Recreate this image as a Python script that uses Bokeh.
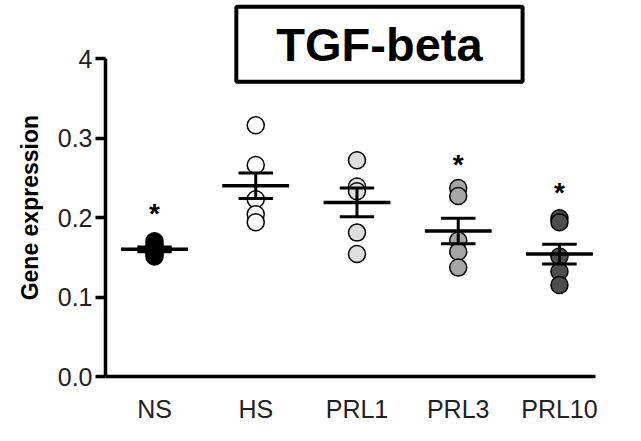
from bokeh.plotting import figure
from bokeh.models import ColumnDataSource, Label, FixedTicker
from bokeh.embed import file_html
from bokeh.resources import INLINE
from bokeh.core.properties import value

categories = ["NS", "HS", "PRL1", "PRL3", "PRL10"]
ns_vals = [0.151, 0.155, 0.158, 0.162, 0.166, 0.170]
hs_vals = [0.316, 0.266, 0.223, 0.204, 0.194]
prl1_vals = [0.272, 0.239, 0.233, 0.181, 0.154]
prl3_vals = [0.237, 0.227, 0.171, 0.157, 0.137]
prl10_vals = [0.199, 0.194, 0.151, 0.132, 0.115]
means = [0.160, 0.240, 0.219, 0.183, 0.154]
sems = [0.003, 0.016, 0.018, 0.016, 0.0125]
star_groups = ["NS", "PRL3", "PRL10"]
star_y = [0.225, 0.287, 0.251]
y_ticks = [0.0, 0.1, 0.2, 0.3, 0.4]
y_tick_labels = ["0.0", "0.1", "0.2", "0.3", "4"]
title_text = "TGF-beta"
y_label = "Gene expression"

fills = ["#000000", "#ffffff", "#dedede", "#a6a6a6", "#4d4d4d"]
groups = [ns_vals, hs_vals, prl1_vals, prl3_vals, prl10_vals]
FONT = "Liberation Sans"

p = figure(width=625, height=425, output_backend="svg", toolbar_location=None,
           x_range=(0.516, 5.356), y_range=(0.0, 0.473),
           min_border_left=105, min_border_right=30, min_border_top=0, min_border_bottom=43)
p.outline_line_color = None
p.grid.grid_line_color = None
p.background_fill_color = "white"
p.border_fill_color = "white"

pos = {c: i + 1 for i, c in enumerate(categories)}

# points
for i, vals in enumerate(groups):
    src = ColumnDataSource(dict(x=[i + 1] * len(vals), y=vals))
    p.scatter("x", "y", source=src, size=17, marker="circle",
              fill_color=fills[i], line_color="black", line_width=1.5)

# mean and SEM
xs = [pos[c] for c in categories]
src = ColumnDataSource(dict(
    x=xs,
    m=means,
    lo=[m - s for m, s in zip(means, sems)],
    hi=[m + s for m, s in zip(means, sems)],
    ml=[x - 0.33 for x in xs], mr=[x + 0.33 for x in xs],
    cl=[x - 0.17 for x in xs], cr=[x + 0.17 for x in xs],
))
p.segment(x0="ml", x1="mr", y0="m", y1="m", source=src, line_color="black", line_width=3.5)
p.segment(x0="x", x1="x", y0="lo", y1="hi", source=src, line_color="black", line_width=3)
p.segment(x0="cl", x1="cr", y0="lo", y1="lo", source=src, line_color="black", line_width=3)
p.segment(x0="cl", x1="cr", y0="hi", y1="hi", source=src, line_color="black", line_width=3)

# asterisks
ssrc = ColumnDataSource(dict(x=[pos[g] for g in star_groups], y=star_y, t=["*"] * len(star_groups)))
p.text("x", "y", text="t", source=ssrc, text_align="center", text_baseline="alphabetic",
       y_offset=16, text_font=value(FONT), text_font_size="28px", text_font_style="bold",
       text_color="black")

# title box
lab = Label(x=3.222, y=0.4179, x_units="data", y_units="data", text=title_text,
            text_align="center", text_baseline="middle",
            text_font=FONT, text_font_size="47px", text_font_style="bold",
            text_color="black", border_line_color="black", border_line_width=4,
            background_fill_color="white",
            padding=dict(left=40, right=40, top=11, bottom=11))
p.add_layout(lab)

# axes
ya = p.yaxis[0]
ya.bounds = (0.0, 0.4)
ya.ticker = FixedTicker(ticks=y_ticks)
ya.major_label_overrides = {t: l for t, l in zip(y_ticks, y_tick_labels)}
ya.axis_line_width = 3.5
ya.axis_line_color = "black"
ya.major_tick_line_width = 3.5
ya.major_tick_line_color = "black"
ya.major_tick_out = 10
ya.major_tick_in = 0
ya.minor_tick_line_color = None
ya.major_label_text_font = FONT
ya.major_label_text_font_size = "25px"
ya.major_label_text_color = "#222222"
ya.major_label_standoff = 3
# trailing no-break spaces shift the visible label down to match the reference
ya.axis_label = y_label + "\u00a0" * 6
ya.axis_label_text_font = FONT
ya.axis_label_text_font_size = "23px"
ya.axis_label_text_font_style = "bold"
ya.axis_label_text_color = "black"
ya.axis_label_standoff = 12

xa = p.xaxis[0]
xa.ticker = FixedTicker(ticks=xs)
xa.major_label_overrides = {x: c for x, c in zip(xs, categories)}
xa.axis_line_width = 3.5
xa.axis_line_color = "black"
xa.major_tick_line_color = None
xa.minor_tick_line_color = None
xa.major_label_text_font = FONT
xa.major_label_text_font_size = "25px"
xa.major_label_text_color = "#222222"
xa.major_label_standoff = 12

open("out.html", "w").write(file_html(p, INLINE))
